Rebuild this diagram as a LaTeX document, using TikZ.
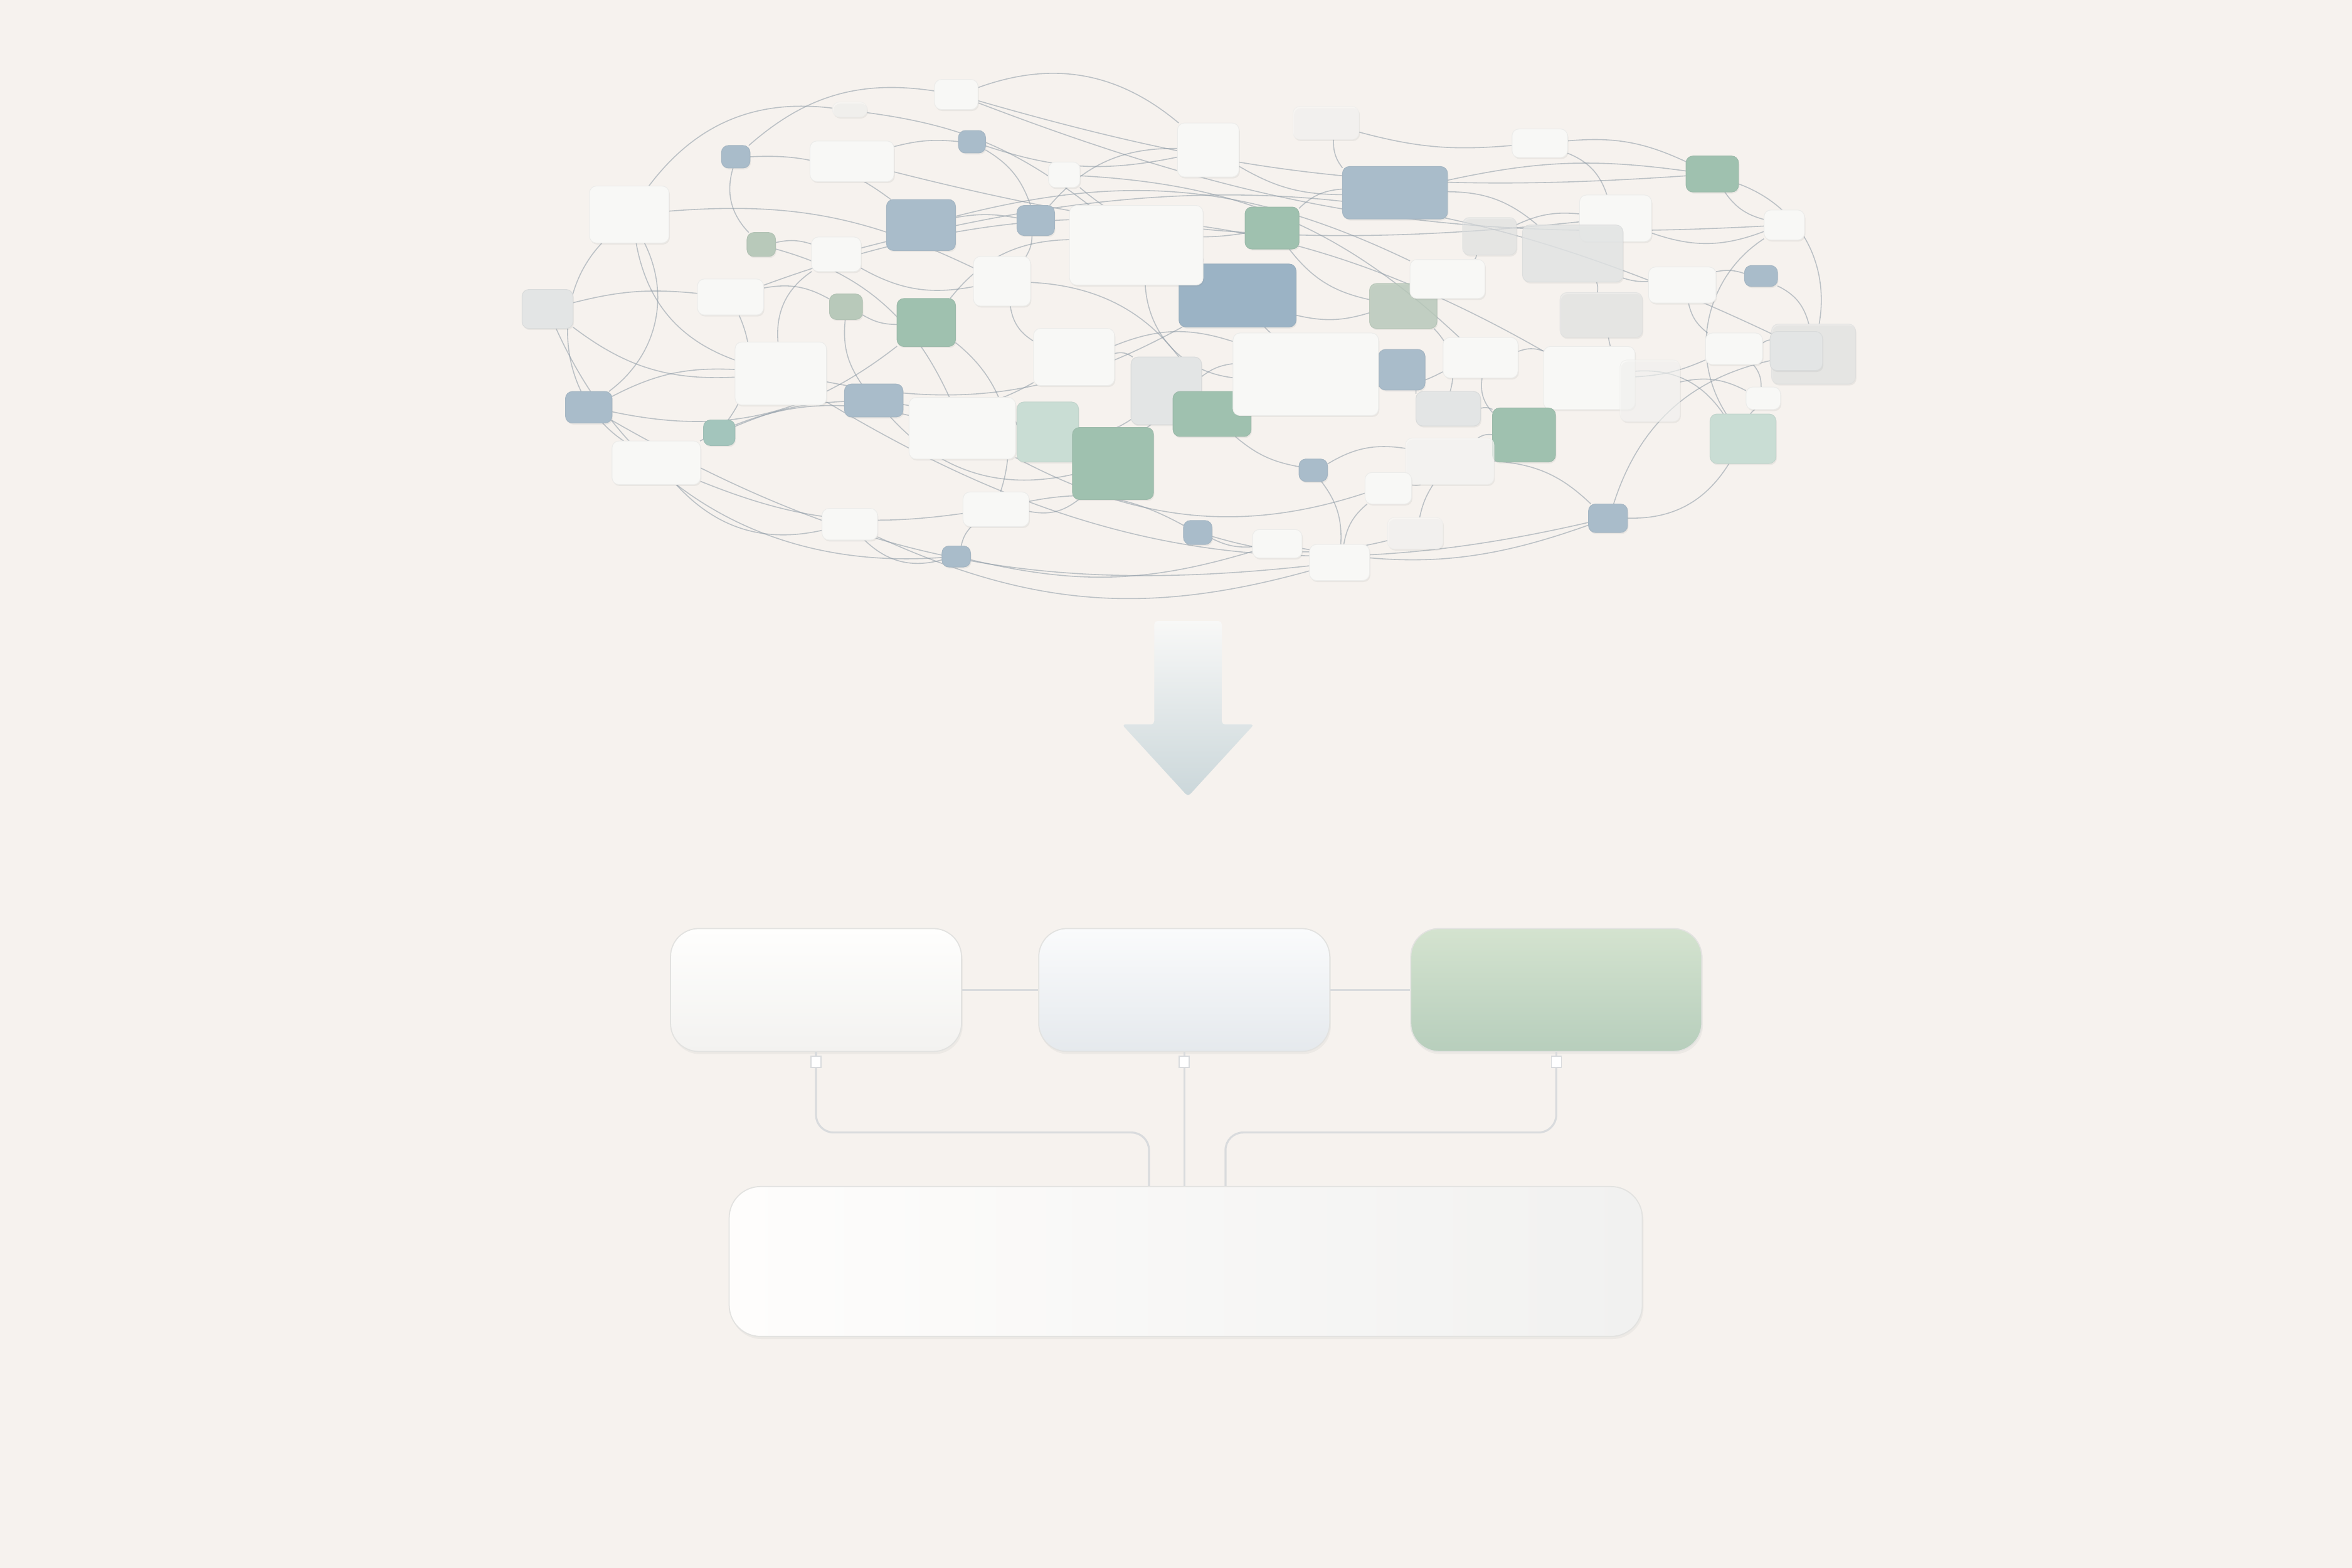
\documentclass[tikz,border=0pt]{standalone}
\usepackage{tikz}
\usetikzlibrary{calc, positioning, shadows}
\usepackage{xcolor}

\definecolor{paper}{HTML}{F6F2EE}
\definecolor{cwhite}{HTML}{F8F8F6}
\definecolor{cblue}{HTML}{A9BCCA}
\definecolor{cdblue}{HTML}{9BB3C5}
\definecolor{cgreen}{HTML}{9FC1AF}
\definecolor{cmint}{HTML}{C9DDD4}
\definecolor{csage}{HTML}{B8C9BA}
\definecolor{cgray}{HTML}{E3E5E5}
\definecolor{cteal}{HTML}{A3C5BC}
\definecolor{stringcol}{HTML}{8C99A5}
\definecolor{linkcol}{HTML}{D9DBDD}
\definecolor{edgecol}{HTML}{E2E2E0}
\definecolor{arrowtop}{HTML}{F8F8F7}
\definecolor{arrowbot}{HTML}{CBD7DA}
\definecolor{lefttop}{HTML}{FEFEFD}
\definecolor{leftbot}{HTML}{F3F2F0}
\definecolor{midtop}{HTML}{FAFBFC}
\definecolor{midbot}{HTML}{E5E9ED}
\definecolor{righttop}{HTML}{D4E3CF}
\definecolor{rightbot}{HTML}{B7CEBC}
\definecolor{baseleft}{HTML}{FEFDFC}
\definecolor{baseright}{HTML}{F1F1F0}

\pgfdeclarelayer{paperlayer}
\pgfdeclarelayer{strings}
\pgfsetlayers{paperlayer,strings,main}

\begin{document}
\begin{tikzpicture}[x=0.23916mm, y=-0.23916mm]

    % Setup the styles
    \tikzset{cloud box/.style={rounded corners=1.1mm,
                               inner sep=0pt, outer sep=0pt,
                               line width=0.3pt,
                               drop shadow={opacity=0.1, shadow xshift=0.4pt, shadow yshift=-0.7pt}},
             tangle/.style={draw=stringcol, line width=0.45pt, opacity=0.55},
             stage/.style={rounded corners=4.5mm,
                           minimum width=46.4mm, minimum height=19.6mm,
                           draw=edgecol, line width=0.5pt,
                           drop shadow={opacity=0.08, shadow xshift=0.5pt, shadow yshift=-1.2pt}},
             tab/.style={fill=white, draw=linkcol, line width=0.4pt,
                         minimum width=1.6mm, minimum height=1.8mm, inner sep=0pt},
             link/.style={draw=linkcol, line width=0.9pt, rounded corners=8pt}}

    \useasboundingbox (0,0) rectangle (1568,1045.33);
    \begin{pgfonlayer}{paperlayer}
        \fill[paper] (0,0) rectangle (1568,1045.33);
    \end{pgfonlayer}

    % Draw the scattered boxes
    \foreach \xa/\ya/\xb/\yb/\col/\op [count=\i] in {
        623/53/652/73/cwhite/1, 555/68/578/78/cwhite/0.5, 481/97/500/112/cblue/1,
        540/94/596/121/cwhite/1, 639/87/657/102/cblue/1, 699/108/720/125/cwhite/1,
        785/82/826/118/cwhite/1, 862/71/906/93/cwhite/0.6, 1008/86/1045/105/cwhite/1,
        895/111/965/146/cblue/1, 1124/104/1159/128/cgreen/1, 393/124/446/162/cwhite/1,
        498/155/517/171/csage/1, 541/158/574/181/cwhite/1, 591/133/637/167/cblue/1,
        678/137/703/157/cblue/1, 786/176/864/218/cdblue/1, 830/138/866/166/cgreen/1,
        975/145/1011/170/cgray/0.6, 1053/130/1101/161/cwhite/1, 1015/150/1082/188/cgray/0.8,
        1176/140/1203/160/cwhite/1, 649/171/687/204/cwhite/1, 465/186/509/210/cwhite/1,
        348/193/382/219/cgray/1, 553/196/575/213/csage/1, 598/199/637/231/cgreen/1,
        713/137/802/190/cwhite/1, 913/189/958/219/csage/0.8, 940/173/990/199/cwhite/1,
        1099/178/1144/202/cwhite/1, 1163/177/1185/191/cblue/1, 1040/195/1095/225/cgray/0.5,
        689/219/743/257/cwhite/1, 490/228/551/270/cwhite/1, 563/256/602/278/cblue/1,
        754/238/801/283/cgray/1, 782/261/834/291/cgreen/1, 919/233/950/260/cblue/1,
        962/225/1012/252/cwhite/1, 1029/231/1090/273/cwhite/1, 1080/240/1120/281/cwhite/0.6,
        1137/222/1175/243/cwhite/1, 1181/216/1237/256/cgray/0.5, 377/261/408/282/cblue/1,
        469/280/490/297/cteal/1, 606/265/677/306/cwhite/1, 678/268/719/308/cmint/1,
        715/285/769/333/cgreen/1, 822/222/919/277/cwhite/1, 944/261/987/284/cgray/1,
        995/272/1037/308/cgreen/1, 1164/258/1187/273/cwhite/1, 1140/276/1184/309/cmint/1,
        408/294/467/323/cwhite/1, 866/306/885/321/cblue/1, 937/292/996/323/cwhite/0.7,
        910/315/941/336/cwhite/1, 642/328/686/351/cwhite/1, 548/339/585/360/cwhite/1,
        789/347/808/363/cblue/1, 1059/336/1085/355/cblue/1, 628/364/647/378/cblue/1,
        835/353/868/372/cwhite/1, 873/363/913/387/cwhite/1, 925/345/962/366/cwhite/0.6,
        1180/221/1215/247/cgray/1}
    {
        \pgfmathsetmacro\bw{(\xb-\xa)*0.23916}
        \pgfmathsetmacro\bh{(\yb-\ya)*0.23916}
        \node[cloud box, fill=\col, draw=\col!90!gray, opacity=\op,
              minimum width=\bw mm, minimum height=\bh mm]
            (c\i) at ({(\xa+\xb)/2},{(\ya+\yb)/2}) {};
    }

    % Tangle the boxes together
    \begin{pgfonlayer}{strings}
        \foreach \a/\b/\bend in {3/15/20, 12/23/15, 12/35/-30, 25/35/-20, 25/24/10,
            45/35/15, 45/27/-25, 55/47/20, 55/60/-30, 46/36/10, 36/34/-20,
            27/28/25, 28/17/15, 28/50/-40, 15/16/10, 16/7/25, 7/10/-15, 10/11/10,
            10/21/20, 21/31/-10, 31/32/15, 20/22/-20, 9/11/15, 8/9/-10, 1/7/30,
            5/7/-15, 4/5/10, 14/23/-20, 13/14/15, 26/27/-15, 24/26/20, 23/34/-25,
            34/50/20, 50/40/-15, 40/41/20, 41/43/-10, 43/44/15, 41/54/30, 54/62/30,
            62/64/15, 65/56/-20, 56/38/15, 38/49/-20, 49/59/25, 59/63/-15, 63/60/30,
            47/48/10, 48/37/-20, 37/50/15, 17/29/-15, 29/30/20, 30/19/-10, 19/20/15,
            52/51/-20, 51/39/15, 39/50/-10, 57/52/20, 58/57/-15, 66/57/10, 61/59/-20,
            64/61/15, 33/42/-15, 42/53/20, 53/54/-10, 12/2/30, 25/63/-35, 3/1/25,
            44/11/-40, 35/62/-22, 24/41/25, 14/44/20, 45/65/-18, 6/40/20, 1/22/-12,
            35/17/-20, 23/38/30, 47/57/-25, 15/30/20, 27/59/35, 36/49/-30,
            1/11/-10, 2/28/15, 4/20/-10, 60/65/-20, 63/64/-15, 12/55/-50, 45/12/-40,
            22/54/-45, 44/62/-30, 13/47/25, 26/36/-20, 16/23/15, 18/29/-20, 18/10/20,
            34/37/25, 14/35/-30, 5/16/20, 6/18/-25, 24/46/30, 55/59/-15, 57/62/20,
            40/52/-25, 43/53/20, 31/43/-20, 9/20/25, 8/10/-20, 29/51/30, 58/65/-20,
            21/33/15, 11/22/-20, 32/44/25, 61/66/-15, 56/57/20, 17/39/-25, 3/13/-30}
            \draw[tangle] (c\a) to[bend left=\bend] (c\b);
    \end{pgfonlayer}

    % Draw the arrow
    \shade[top color=arrowtop, bottom color=arrowbot, rounded corners=1.5pt]
        (748,483) -- (769.5,483) -- (769.5,414) -- (814.5,414)
        -- (814.5,483) -- (836,483) -- (792,531) -- cycle;

    % Draw the ordered stages
    \node[stage, top color=lefttop, bottom color=leftbot] at (544, 660) (boxleft) {};
    \node[stage, top color=midtop, bottom color=midbot] at (789.5, 660) (boxmid) {};
    \node[stage, top color=righttop, bottom color=rightbot] at (1037.5, 660) (boxright) {};
    \node[stage, minimum width=145.6mm, minimum height=23.9mm, rounded corners=5mm,
          left color=baseleft, right color=baseright] at (790.5, 841) (base) {};

    \node[tab, below=0.6mm of boxleft] (tableft) {};
    \node[tab, below=0.6mm of boxmid] (tabmid) {};
    \node[tab, below=0.6mm of boxright] (tabright) {};

    \coordinate (dropL) at (766, 755);
    \coordinate (dropR) at (817, 755);

    % Connect the stages
    \draw[link] (boxleft) -- (boxmid);
    \draw[link] (boxmid) -- (boxright);
    \draw[link] (boxleft) -- (tableft);
    \draw[link] (boxmid) -- (tabmid);
    \draw[link] (boxright) -- (tabright);
    \draw[link] (tableft) |- (dropL) -- (dropL |- base.north);
    \draw[link] (tabmid) -- (tabmid |- base.north);
    \draw[link] (tabright) |- (dropR) -- (dropR |- base.north);

\end{tikzpicture}
\end{document}
